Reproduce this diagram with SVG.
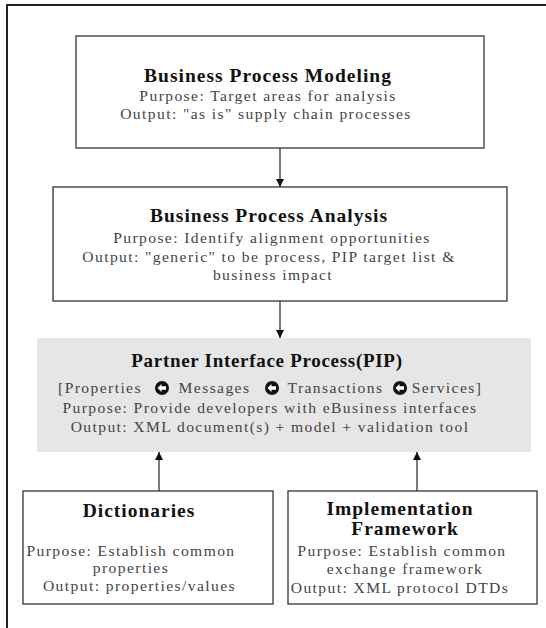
<svg xmlns="http://www.w3.org/2000/svg" width="546" height="628" viewBox="0 0 546 628">
<defs>
<style>
.box{fill:#fff;stroke:#333;stroke-width:1.3}
.grey{fill:#e6e6e6;stroke:none}
.t{font-family:"Liberation Serif","Times New Roman",serif;font-weight:bold;font-size:19.5px;letter-spacing:1px;fill:#111;text-anchor:middle}
.b{font-family:"Liberation Serif","Times New Roman",serif;font-size:15.6px;letter-spacing:1.4px;fill:#444;text-anchor:middle}
.ln{stroke:#333;stroke-width:1.3;fill:none}
</style>
<marker id="ah" viewBox="0 0 10 10" refX="10" refY="5" markerWidth="8" markerHeight="9" markerUnits="userSpaceOnUse" orient="auto">
<path d="M0,0 L10,5 L0,10 Z" fill="#111"/>
</marker>
<g id="icon">
<circle cx="0" cy="0" r="7" fill="#111"/>
<path d="M-4.5,0 L-0.5,-4 L-0.5,-1.8 L4,-1.8 L4,1.8 L-0.5,1.8 L-0.5,4 Z" fill="#fff"/>
</g>
</defs>
<rect width="546" height="628" fill="#fff"/>
<g id="frame">
<path d="M7,628 L7,5 L546,5" fill="none" stroke="#222" stroke-width="2"/>
</g>
<g id="connectors">
<line class="ln" x1="280" y1="148" x2="280" y2="187" marker-end="url(#ah)"/>
<line class="ln" x1="280" y1="301" x2="280" y2="338" marker-end="url(#ah)"/>
<line class="ln" x1="159" y1="491" x2="159" y2="452" marker-end="url(#ah)"/>
<line class="ln" x1="417" y1="491" x2="417" y2="452" marker-end="url(#ah)"/>
</g>
<g id="bpm">
<rect class="box" x="76" y="36" width="408" height="112"/>
<text class="t" x="268" y="82">Business Process Modeling</text>
<text class="b" x="268" y="101">Purpose: Target areas for analysis</text>
<text class="b" x="266" y="119">Output: "as is" supply chain processes</text>
</g>
<g id="bpa">
<rect class="box" x="53" y="187" width="454" height="114"/>
<text class="t" x="269" y="222">Business Process Analysis</text>
<text class="b" x="272" y="243">Purpose: Identify alignment opportunities</text>
<text class="b" x="269" y="262">Output: "generic" to be process, PIP target list &amp;</text>
<text class="b" x="273" y="280">business impact</text>
</g>
<g id="pip">
<rect class="grey" x="37" y="338" width="494" height="114"/>
<text class="t" x="267" y="367" style="font-size:19px;letter-spacing:0.7px">Partner Interface Process(PIP)</text>
<text class="b" x="100" y="393">[Properties</text>
<use href="#icon" x="162" y="388"/>
<text class="b" x="214.5" y="393">Messages</text>
<use href="#icon" x="272" y="388"/>
<text class="b" x="335.5" y="393">Transactions</text>
<use href="#icon" x="400" y="388"/>
<text class="b" x="447" y="393">Services]</text>
<text class="b" x="270" y="413">Purpose: Provide developers with eBusiness interfaces</text>
<text class="b" x="270" y="432">Output: XML document(s) +  model +  validation tool</text>
</g>
<g id="dict">
<rect class="box" x="23" y="491" width="250" height="113"/>
<text class="t" x="139" y="517">Dictionaries</text>
<text class="b" x="131" y="556">Purpose: Establish common</text>
<text class="b" x="131" y="573">properties</text>
<text class="b" x="139.5" y="591">Output: properties/values</text>
</g>
<g id="impl">
<rect class="box" x="288" y="491" width="249" height="113"/>
<text class="t" x="400" y="515">Implementation</text>
<text class="t" x="405" y="535">Framework</text>
<text class="b" x="402" y="556">Purpose: Establish common</text>
<text class="b" x="405" y="574">exchange framework</text>
<text class="b" x="400" y="593">Output: XML protocol DTDs</text>
</g>
</svg>
